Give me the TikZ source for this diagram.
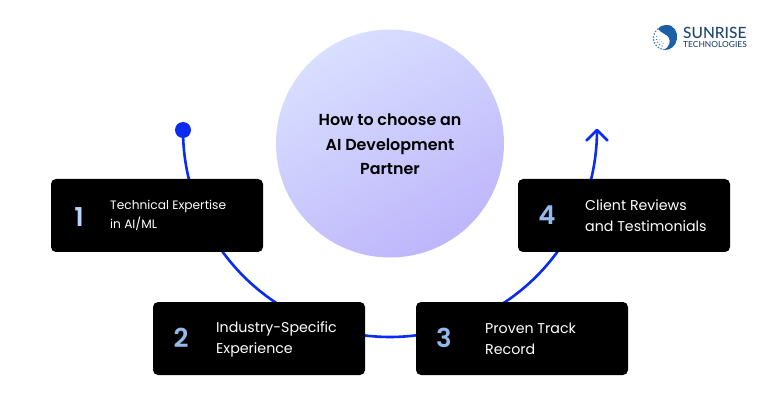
\documentclass[tikz,border=0pt]{standalone}
\usepackage{fontspec}
\usetikzlibrary{calc}
\setmainfont{Poppins}
\newfontfamily\pbold{Poppins SemiBold}
\newfontfamily\logofont{Lato Medium}
\definecolor{arcblue}{HTML}{0A2BF0}
\definecolor{numA}{HTML}{B9D4F9}
\definecolor{numB}{HTML}{94BAEC}
\definecolor{logoblue}{HTML}{1B5FA8}
\definecolor{logodark}{HTML}{1F4670}
\definecolor{discA}{HTML}{D9DFFF}
\definecolor{discB}{HTML}{BEB6FB}
\tikzset{
  x=1pt,y=1pt,
  card/.style={fill=black,rounded corners=5pt,minimum width=212pt,minimum height=73pt,inner sep=0pt,draw=none},
  num/.style={font=\pbold\fontsize{26}{26}\selectfont,inner sep=0pt,anchor=center},
  lab/.style={text=white,inner sep=0pt,anchor=west,align=left,font=\fontsize{14.2}{21}\selectfont},
  flow/.style={draw=arcblue,line width=2.6pt},
  title/.style={font=\pbold\fontsize{15.9}{24.5}\selectfont,align=center,inner sep=0pt,text=black},
  dotp/.style={fill=logoblue!80,draw=none}
}
\begin{document}
\begin{tikzpicture}
\useasboundingbox (0,0) rectangle (780,405);
\fill[white] (0,0) rectangle (780,405);
% swirl
\coordinate (s) at (183,275);
\coordinate (e) at (597,275);
\draw[flow] (s) arc[start angle=180,end angle=360,radius=207];
\draw[flow,line join=round,line cap=round] ($(e)+(-10.5,-10.5)$) -- (e) -- ($(e)+(10.5,-10.5)$);
\fill[arcblue] (s) circle[radius=8];
% centre circle
\shade[left color=discA,right color=discB,shading angle=30] (390,261.5) circle[radius=114];
\node[title] (ttl) at (390,260.5) {How to choose an\\AI Development\\Partner};
% cards
\node[card] (c1) at (157,189.5) {};
\node[card] (c2) at (259,66.5) {};
\node[card] (c3) at (522,66.5) {};
\node[card] (c4) at (624,189.5) {};
\node[num,text=numA] (n1) at (79,188) {1};
\node[num,text=numB] (n2) at (181,67) {2};
\node[num,text=numB] (n3) at (444,67) {3};
\node[num,text=numB] (n4) at (547,190) {4};
\node[lab,font=\fontsize{12.2}{19}\selectfont] (t1) at (110,189.5) {Technical Expertise\\in AI/ML};
\node[lab] (t2) at (216,66) {Industry-Specific\\Experience};
\node[lab] (t3) at (485,66) {Proven Track\\Record};
\node[lab] (t4) at (585,189.5) {Client Reviews\\and Testimonials};
% logo
\fill[logoblue] (666,380) .. controls (674,380.5) and (678,373) .. (677,366) .. controls (676,359) and (670,354.5) .. (664,355) .. controls (669,358) and (671,363) .. (669,367) .. controls (667,371) and (662,371) .. (658,376) .. controls (660,379) and (663,380) .. (666,380) -- cycle;
\foreach \a/\r/\s in {130/11.5/.7,145/11.5/.9,160/11.5/.9,175/11.5/.9,190/11.5/1,205/11.5/1,220/11.5/1,235/11.5/1,250/11.5/.9,265/11.5/.8,170/8.5/.6,190/8.5/.7,210/8.5/.8,230/8.5/.8,250/8.5/.7,200/5.5/.5,225/5.5/.6,250/5.5/.6}
  \fill[dotp] ($(665,367)+(\a:\r)$) circle[radius=\s];
\node[inner sep=0pt,anchor=west,text=logodark,font=\logofont\fontsize{15.5}{15.5}\selectfont] (lg1) at (683,372.5) {SUNRISE};
\node[inner sep=0pt,anchor=west,text=logodark,font=\logofont\fontsize{8.4}{8.4}\selectfont] (lg2) at (683,361) {TECHNOLOGIES};
\end{tikzpicture}
\end{document}
